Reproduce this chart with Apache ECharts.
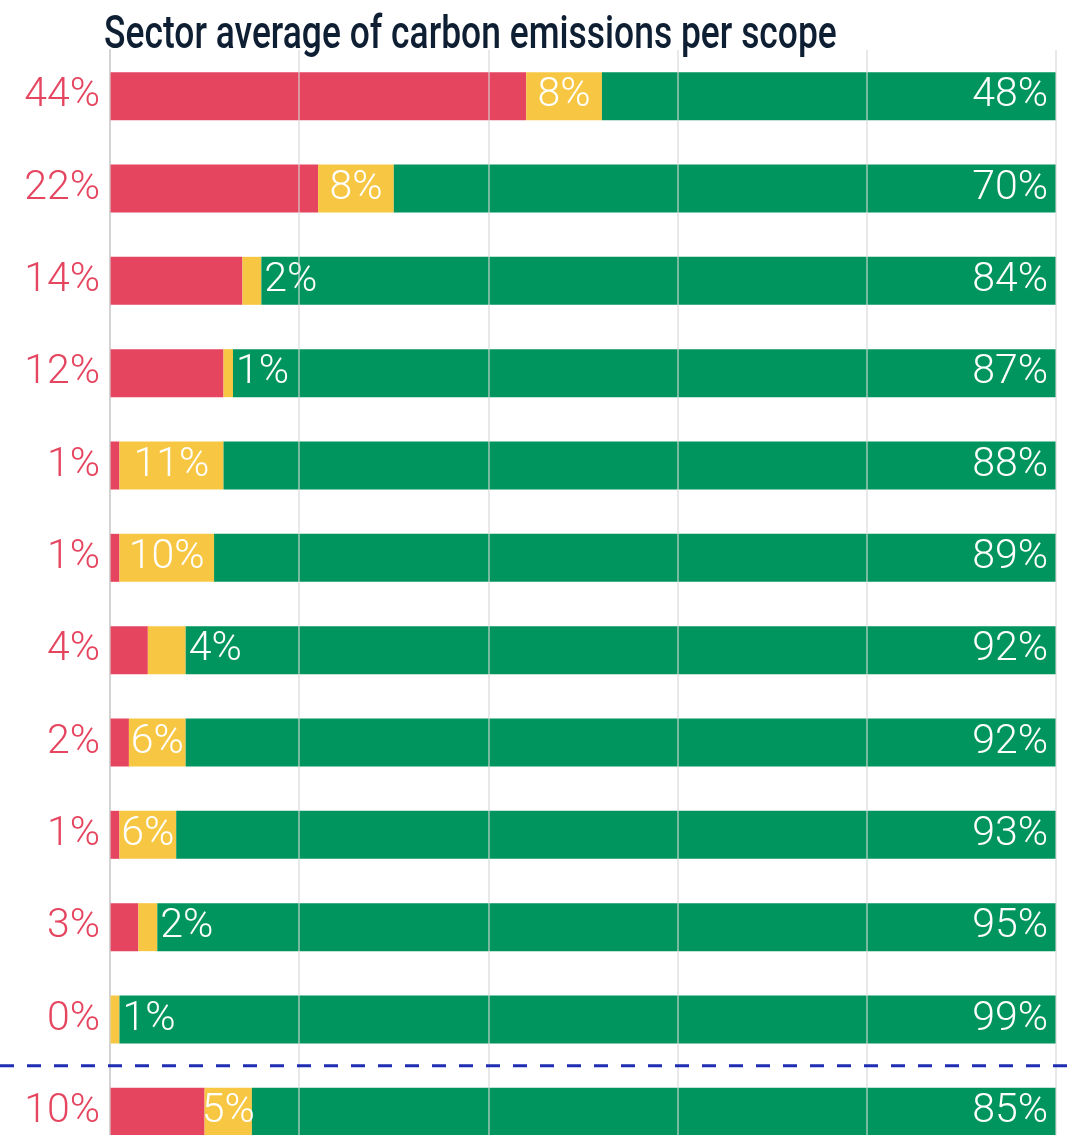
<!DOCTYPE html>
<html style="height: 100%">
<head>
    <meta charset="utf-8">
    <title>Sector average of carbon emissions per scope</title>
</head>
<body style="height: 100%; margin: 0; background: #fff">
<div id="container" style="width: 1076px; height: 1135px"></div>
<script type="text/javascript" src="https://cdn.jsdelivr.net/npm/echarts@6/dist/echarts.min.js"></script>
<script type="text/javascript">
    // one row per sector, last row = average
    var rows = ['r1', 'r2', 'r3', 'r4', 'r5', 'r6', 'r7', 'r8', 'r9', 'r10', 'r11', 'avg'];
    var scope1 = [44, 22, 14, 12, 1, 1, 4, 2, 1, 3, 0, 10];
    var scope2 = [8, 8, 2, 1, 11, 10, 4, 6, 6, 2, 1, 5];
    var scope3 = [48, 70, 84, 87, 88, 89, 92, 92, 93, 95, 99, 85];

    var RED = '#e6455f', YELLOW = '#f7c744', GREEN = '#00955e';
    var FONT = 'Roboto';
    var LABEL_SIZE = 41;

    var dom = document.getElementById('container');
    var myChart = echarts.init(dom);

    // small yellow segments get their label pushed to the right of the bar
    var scope2Data = scope2.map(function (v) {
        return {
            value: v,
            label: v >= 5 ? {position: 'inside'} : {position: 'right', distance: 3}
        };
    });

    var option = {
        animation: false,
        // 12 rows of ~92px, last one runs to the bottom edge
        grid: {left: 110, right: 20, top: 50, height: 1108, containLabel: false, outerBoundsMode: 'none'},
        xAxis: {
            type: 'value',
            min: 0,
            max: 100,
            interval: 20,
            z: 3,
            axisLabel: {show: false},
            axisLine: {show: false},
            axisTick: {show: false},
            splitLine: {lineStyle: {color: 'rgba(215,215,215,0.75)', width: 1.5}}
        },
        yAxis: {
            type: 'category',
            inverse: true,
            data: rows,
            axisTick: {show: false},
            axisLine: {lineStyle: {color: '#cfcfcf', width: 2}},
            axisLabel: {
                margin: 10,
                color: RED,
                fontFamily: FONT,
                fontWeight: 300,
                fontSize: LABEL_SIZE,
                formatter: function (v, i) { return scope1[i] + '%'; }
            }
        },
        series: [{
            name: 'Scope 1',
            type: 'bar',
            stack: 'all',
            barWidth: 48,
            itemStyle: {color: RED},
            data: scope1
        }, {
            name: 'Scope 2',
            type: 'bar',
            stack: 'all',
            barWidth: 48,
            itemStyle: {color: YELLOW},
            label: {
                show: true,
                color: '#fff',
                fontFamily: FONT,
                fontWeight: 300,
                fontSize: LABEL_SIZE,
                formatter: '{c}%'
            },
            data: scope2Data
        }, {
            name: 'Scope 3',
            type: 'bar',
            stack: 'all',
            barWidth: 48,
            itemStyle: {color: GREEN},
            label: {
                show: true,
                position: 'insideRight',
                distance: 8,
                color: '#fff',
                fontFamily: FONT,
                fontWeight: 300,
                fontSize: LABEL_SIZE,
                formatter: '{c}%'
            },
            data: scope3
        }]
    };
    myChart.setOption(option, true);

    // dashed separator between the sectors and the average row
    var yA = myChart.convertToPixel({yAxisIndex: 0}, rows.length - 2);
    var yB = myChart.convertToPixel({yAxisIndex: 0}, rows.length - 1);
    var sepY = (yA + yB) / 2;

    myChart.setOption({
        graphic: [{
            type: 'text',
            x: 104,
            y: 13,
            scaleX: 0.77,
            style: {
                text: 'Sector average of carbon emissions per scope',
                fontFamily: FONT,
                fontWeight: 500,
                fontSize: 46,
                fill: '#0f1f33'
            }
        }, {
            type: 'line',
            shape: {x1: 0, y1: sepY, x2: 1076, y2: sepY},
            style: {stroke: '#1f2db3', lineWidth: 3, lineDash: [14, 13]},
            z: 10
        }]
    });
</script>
</body>
</html>
